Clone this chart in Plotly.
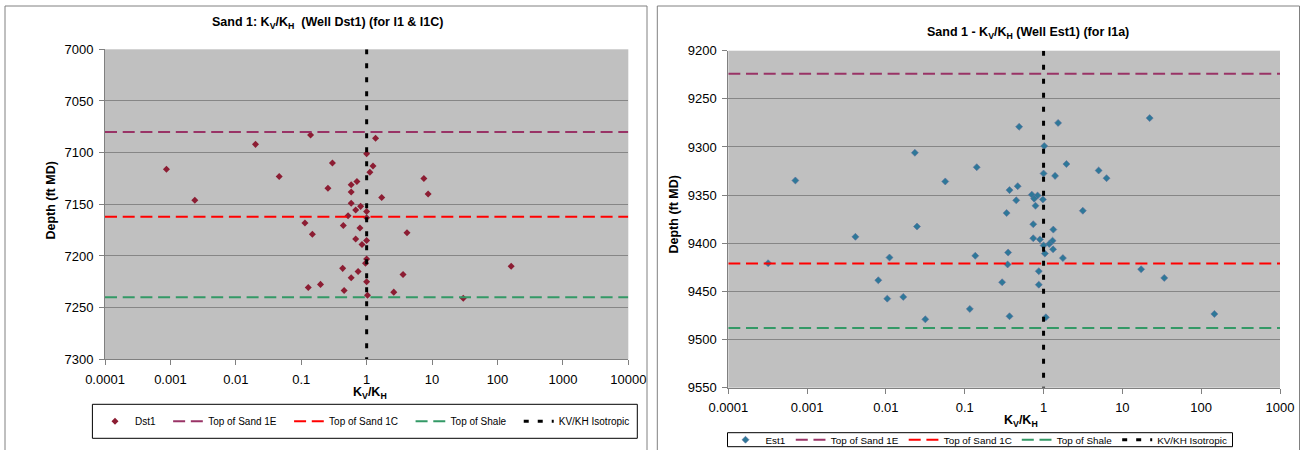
import math
import plotly.graph_objects as go

# ---------------- data ----------------
# Left chart: Well Dst1
dst1_kvkh = [0.139, 1.37, 0.020, 1.0, 0.00087, 0.30, 1.25, 1.12, 0.046, 7.5, 0.71, 0.58,
             0.256, 0.58, 8.7, 1.70, 0.00236, 0.58, 0.81, 0.68, 1.0, 0.52, 1.0, 0.114,
             0.44, 0.79, 4.14, 0.148, 0.68, 1.0, 0.85, 1.0, 0.96, 162, 0.43, 0.74,
             3.6, 0.58, 1.0, 0.197, 0.128, 0.453, 2.6, 1.03, 30]
dst1_depth = [7083, 7086, 7092, 7101, 7116, 7110, 7113, 7119, 7123, 7125, 7128, 7131,
              7134.5, 7138, 7140, 7143.5, 7146, 7149, 7152, 7155.5, 7157, 7161, 7163, 7168,
              7170.5, 7173, 7177.5, 7179, 7183.5, 7185, 7189, 7203, 7207, 7210, 7212, 7215,
              7218, 7221, 7225, 7227.5, 7230.5, 7233.5, 7235, 7238, 7241]

# Right chart: Well Est1
est1_kvkh = [22.2, 1.53, 0.49, 1.02, 0.0233, 1.95, 0.142, 5.0, 1.0, 1.40, 6.3, 0.00071,
             0.0566, 0.47, 0.37, 0.71, 0.84, 0.76, 0.45, 0.98, 0.79, 3.15, 0.34, 0.74,
             0.0248, 1.33, 0.0041, 0.74, 0.90, 1.30, 1.18, 1.0, 1.32, 0.355, 1.04, 0.136,
             0.0111, 1.76, 0.00032, 0.35, 17.3, 0.87, 34, 0.0080, 0.298, 0.87, 0.0166,
             0.0104, 0.116, 147, 0.37, 1.07, 0.0316]
est1_depth = [9270, 9275, 9279, 9299, 9306, 9317.7, 9321, 9324.4, 9327.5, 9330, 9332.4, 9334.8,
              9335.8, 9340.7, 9344.8, 9349.5, 9350.4, 9353.7, 9355.4, 9354.5, 9361, 9366.2, 9368.6, 9380.2,
              9382.6, 9385.8, 9393.3, 9394.8, 9396, 9397.3, 9400.7, 9402.2, 9406.3, 9409.6, 9410.7, 9413,
              9414.8, 9415.4, 9420.7, 9422, 9427, 9429, 9436, 9438.4, 9440.5, 9443, 9455.7,
              9457.5, 9468.2, 9473.4, 9475.8, 9476.9, 9479]

# Reference lines (depth, ft MD)
left_top_sand_1e = 7080
left_top_sand_1c = 7162
left_top_shale = 7240
right_top_sand_1e = 9224
right_top_sand_1c = 9421
right_top_shale = 9488
isotropic_kvkh = 1

# Axis ranges and tick labels
left_x_range = [0.0001, 10000]
right_x_range = [0.0001, 1000]
left_y_range = [7000, 7300]
right_y_range = [9200, 9550]
left_x_ticks = [0.0001, 0.001, 0.01, 0.1, 1, 10, 100, 1000, 10000]
left_x_ticktext = ["0.0001", "0.001", "0.01", "0.1", "1", "10", "100", "1000", "10000"]
right_x_ticks = [0.0001, 0.001, 0.01, 0.1, 1, 10, 100, 1000]
right_x_ticktext = ["0.0001", "0.001", "0.01", "0.1", "1", "10", "100", "1000"]
left_y_ticks = [7000, 7050, 7100, 7150, 7200, 7250, 7300]
right_y_ticks = [9200, 9250, 9300, 9350, 9400, 9450, 9500, 9550]

legend_names_left = ["Dst1", "Top of Sand 1E", "Top of Sand 1C", "Top of Shale", "KV/KH Isotropic"]
legend_names_right = ["Est1", "Top of Sand 1E", "Top of Sand 1C", "Top of Shale", "KV/KH Isotropic"]

# ---------------- styling ----------------
W, H = 1305, 450
FONT = "Arial, Liberation Sans, sans-serif"
C_1E = "#993366"
C_1C = "#FF0000"
C_SH = "#339966"
C_ISO = "#000000"
HDASH = "12px,5.7px"
VDASH = "5px,9px"
NB = "\u00a0\u00a0\u2009"


def px_x(v):
    return v / W


def px_y(v):
    return 1 - v / H


fig = go.Figure()

# ---- left chart traces ----
fig.add_trace(go.Scatter(x=dst1_kvkh, y=dst1_depth, mode="markers", name=legend_names_left[0] + NB,
                         marker=dict(symbol="diamond", size=5.4, color="#8C1D33"),
                         xaxis="x", yaxis="y", legend="legend"))
for nm, val, col in [(legend_names_left[1], left_top_sand_1e, C_1E),
                     (legend_names_left[2], left_top_sand_1c, C_1C),
                     (legend_names_left[3], left_top_shale, C_SH)]:
    fig.add_trace(go.Scatter(x=left_x_range, y=[val, val], mode="lines", name=nm + NB,
                             line=dict(color=col, width=2, dash=HDASH),
                             xaxis="x", yaxis="y", legend="legend"))
fig.add_trace(go.Scatter(x=[isotropic_kvkh, isotropic_kvkh], y=left_y_range, mode="lines",
                         name=legend_names_left[4],
                         line=dict(color=C_ISO, width=3, dash=VDASH),
                         xaxis="x", yaxis="y", legend="legend"))

# ---- right chart traces ----
fig.add_trace(go.Scatter(x=est1_kvkh, y=est1_depth, mode="markers", name=legend_names_right[0],
                         marker=dict(symbol="diamond", size=5.4, color="#2E7898",
                                     line=dict(color="#5E6E9E", width=0.6)),
                         xaxis="x2", yaxis="y2", legend="legend2"))
for nm, val, col in [(legend_names_right[1], right_top_sand_1e, C_1E),
                     (legend_names_right[2], right_top_sand_1c, C_1C),
                     (legend_names_right[3], right_top_shale, C_SH)]:
    fig.add_trace(go.Scatter(x=right_x_range, y=[val, val], mode="lines", name=nm,
                             line=dict(color=col, width=2, dash=HDASH),
                             xaxis="x2", yaxis="y2", legend="legend2"))
fig.add_trace(go.Scatter(x=[isotropic_kvkh, isotropic_kvkh], y=right_y_range, mode="lines",
                         name=legend_names_right[4],
                         line=dict(color=C_ISO, width=3, dash=VDASH),
                         xaxis="x2", yaxis="y2", legend="legend2"))

axis_common = dict(showline=True, linecolor="#808080", linewidth=1, ticks="outside", ticklen=5,
                   tickcolor="#808080", tickfont=dict(family=FONT, size=13, color="#000000"),
                   zeroline=False, ticklabelstandoff=3, automargin=False)

fig.update_layout(
    width=W, height=H,
    margin=dict(l=0, r=0, t=0, b=0, pad=0, autoexpand=False),
    paper_bgcolor="#FFFFFF",
    plot_bgcolor="#C0C0C0",
    font=dict(family=FONT, color="#000000"),
    xaxis=dict(type="log", domain=[px_x(105), px_x(628.3)],
               range=[math.log10(left_x_range[0]), math.log10(left_x_range[1])],
               tickvals=left_x_ticks, ticktext=left_x_ticktext, showgrid=False,
               anchor="y", **axis_common),
    yaxis=dict(domain=[px_y(359.3), px_y(49.3)], range=[left_y_range[1], left_y_range[0]],
               tickvals=left_y_ticks, showgrid=True, gridcolor="#868686", gridwidth=1.2,
               anchor="x", **axis_common),
    xaxis2=dict(type="log", domain=[px_x(728.3), px_x(1280)],
                range=[math.log10(right_x_range[0]), math.log10(right_x_range[1])],
                tickvals=right_x_ticks, ticktext=right_x_ticktext, showgrid=False,
                anchor="y2", **axis_common),
    yaxis2=dict(domain=[px_y(387.7), px_y(50.7)], range=[right_y_range[1], right_y_range[0]],
                tickvals=right_y_ticks, showgrid=True, gridcolor="#868686", gridwidth=1.2,
                anchor="x2", **axis_common),
    legend=dict(orientation="h", x=px_x(95), xanchor="left", y=px_y(421.3), yanchor="middle",
                bgcolor="rgba(0,0,0,0)", borderwidth=0, font=dict(family=FONT, size=10),
                traceorder="normal"),
    legend2=dict(orientation="h", x=px_x(725.5), xanchor="left", y=px_y(439.7), yanchor="middle",
                 bgcolor="rgba(0,0,0,0)", borderwidth=0, font=dict(family=FONT, size=9.9),
                 traceorder="normal"),
    showlegend=True,
)

# chart frames and legend boxes
shapes = [
    dict(type="rect", xref="paper", yref="paper", x0=px_x(5), x1=px_x(647), y0=px_y(455), y1=px_y(6),
         line=dict(color="#808080", width=1), layer="below"),
    dict(type="rect", xref="paper", yref="paper", x0=px_x(657.3), x1=px_x(1299.5), y0=px_y(455), y1=px_y(6),
         line=dict(color="#808080", width=1), layer="below"),
    dict(type="rect", xref="paper", yref="paper", x0=px_x(92.4), x1=px_x(637.3), y0=px_y(438.3), y1=px_y(404.3),
         line=dict(color="#000000", width=1)),
    dict(type="rect", xref="paper", yref="paper", x0=px_x(727.5), x1=px_x(1232.5), y0=px_y(446.7), y1=px_y(432.7),
         line=dict(color="#000000", width=1)),
]
fig.update_layout(shapes=shapes)

bold = dict(family=FONT, size=12.5, color="#000000")
ann = [
    dict(text="<b>Sand 1: K<sub>V</sub>/K<sub>H</sub> \u00a0(Well Dst1) (for I1 &amp; I1C)</b>",
         x=px_x(327), y=px_y(23.3)),
    dict(text="<b>Sand 1 - K<sub>V</sub>/K<sub>H</sub> (Well Est1) (for I1a)</b>",
         x=px_x(1028), y=px_y(33.4)),
    dict(text="<b>K<sub>V</sub>/K<sub>H</sub></b>", x=px_x(369.8), y=px_y(393.3)),
    dict(text="<b>K<sub>V</sub>/K<sub>H</sub></b>", x=px_x(1021), y=px_y(421)),
    dict(text="<b>Depth (ft MD)</b>", x=px_x(51.2), y=px_y(200.4), textangle=-90),
    dict(text="<b>Depth (ft MD)</b>", x=px_x(673.5), y=px_y(215), textangle=-90),
]
for a in ann:
    fig.add_annotation(xref="paper", yref="paper", xanchor="center", yanchor="middle",
                       showarrow=False, font=bold, **a)

fig.write_html("out.html")
